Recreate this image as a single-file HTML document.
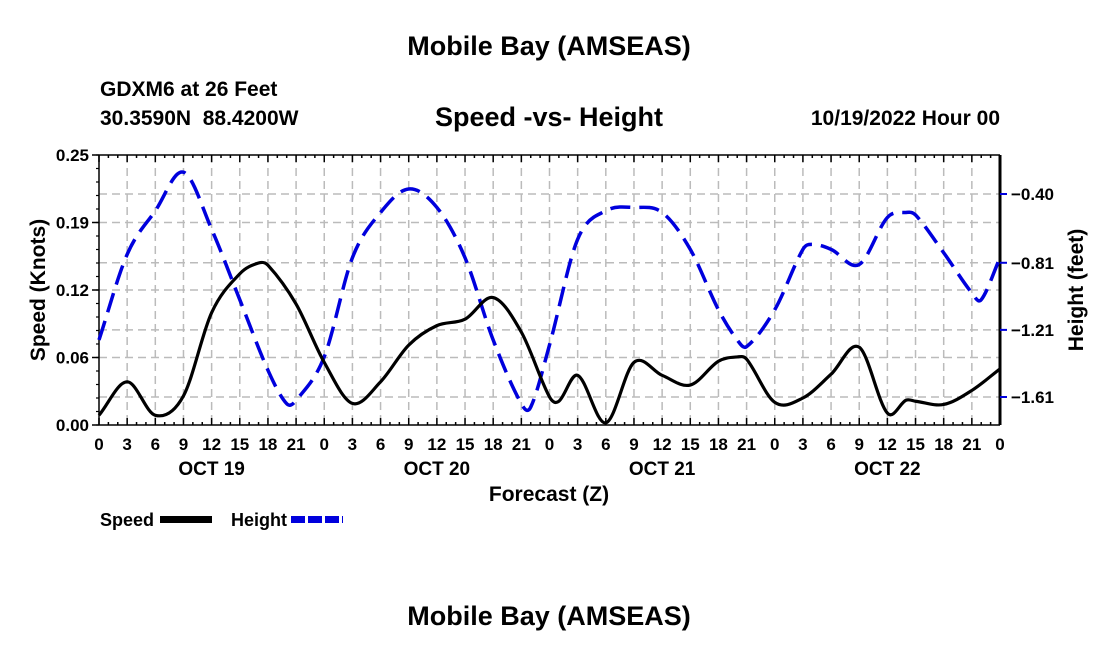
<!DOCTYPE html>
<html><head><meta charset="utf-8"><style>
body{margin:0;background:#fff;}
svg{display:block;font-family:"Liberation Sans",Arial,sans-serif;font-weight:bold;}
</style></head><body>
<svg id="chart" width="1100" height="650" viewBox="0 0 1100 650">
<text x="549" y="55" font-size="27" text-anchor="middle">Mobile Bay (AMSEAS)</text>
<text x="100" y="96" font-size="21">GDXM6 at 26 Feet</text>
<text x="100" y="125" font-size="21" xml:space="preserve">30.3590N  88.4200W</text>
<text x="549" y="126" font-size="27" text-anchor="middle">Speed -vs- Height</text>
<text x="1000" y="125" font-size="21" text-anchor="end">10/19/2022 Hour 00</text>
<g id="grid"></g><g id="axes"></g><g id="series"></g>
<text transform="translate(45,290) rotate(-90)" font-size="21" text-anchor="middle">Speed (Knots)</text>
<text transform="translate(1083,290) rotate(-90)" font-size="21" text-anchor="middle">Height (feet)</text>
<text x="549" y="501" font-size="21" text-anchor="middle">Forecast (Z)</text>
<g>
<text x="100" y="526" font-size="18">Speed</text>
<rect x="160" y="516" width="52" height="7" fill="#000"/>
<text x="231" y="526" font-size="18">Height</text>
<line x1="291" y1="519.5" x2="343" y2="519.5" stroke="#0000dd" stroke-width="7" stroke-dasharray="14,3"/>
</g>
<text x="549" y="625" font-size="27" text-anchor="middle">Mobile Bay (AMSEAS)</text>
</svg>
<script>
const speedHours=[0,3,6,9,12,15,17,18,21,24,27,30,33,36,39,42,45,48,49,51,54,57,60,63,66,68,69,72,75,78,81,84,86,87,90,93,96];
const speedValues=[0.009,0.040,0.009,0.027,0.104,0.140,0.150,0.148,0.112,0.058,0.020,0.040,0.074,0.092,0.098,0.118,0.086,0.026,0.022,0.046,0.002,0.058,0.046,0.037,0.059,0.063,0.061,0.021,0.025,0.047,0.072,0.011,0.023,0.022,0.019,0.032,0.052];
const heightHours=[0,3,6,9,12,15,18,20,21,24,27,30,33,36,39,42,45,46,48,51,54,57,60,63,66,68,69,72,75,76,78,81,84,86,87,90,93,94,96];
const heightValues=[-1.27,-0.76,-0.50,-0.27,-0.61,-1.03,-1.45,-1.65,-1.63,-1.37,-0.78,-0.51,-0.37,-0.48,-0.78,-1.27,-1.65,-1.67,-1.30,-0.67,-0.50,-0.48,-0.51,-0.73,-1.09,-1.27,-1.31,-1.09,-0.73,-0.70,-0.73,-0.82,-0.54,-0.51,-0.525,-0.75,-0.99,-1.03,-0.78];
const speedTicks=[0,0.0625,0.125,0.1875,0.25];
const speedTickLabels=["0.00","0.06","0.12","0.19","0.25"];
const heightTicks=[-1.61,-1.21,-0.81,-0.40];
const heightTickLabels=["\u22121.61","\u22121.21","\u22120.81","\u22120.40"];
const dayLabels=["OCT 19","OCT 20","OCT 21","OCT 22"];
const NS="http://www.w3.org/2000/svg";
const X0=99,X1=1000,Y0=425,Y1=155;
const x=h=>X0+(h/96)*(X1-X0);
const ys=v=>Y0-(v/0.25)*(Y0-Y1);
const yh=v=>194+(-0.40-v)*(203/1.21);
function mk(tag,attrs,parent){const e=document.createElementNS(NS,tag);for(const k in attrs)e.setAttribute(k,attrs[k]);parent.appendChild(e);return e;}
const grid=document.getElementById('grid'),axes=document.getElementById('axes'),ser=document.getElementById('series');
for(let h=3;h<96;h+=3){const l=mk('line',{x1:x(h),x2:x(h),y1:Y1,y2:Y0,stroke:'#bbb','stroke-width':1.5,'stroke-dasharray':'8,5'},grid);

}
speedTicks.slice(1,4).forEach(v=>{const l=mk('line',{x1:X0,x2:X1,y1:ys(v),y2:ys(v),stroke:'#bbb','stroke-width':1.5,'stroke-dasharray':'8,5'},grid);

});
heightTicks.forEach(v=>{const l=mk('line',{x1:X0,x2:X1,y1:yh(v),y2:yh(v),stroke:'#bbb','stroke-width':1.5,'stroke-dasharray':'8,5'},grid);

});
[[X0,Y1,X1,Y1],[X0,Y0,X1,Y0],[X0,Y1,X0,Y0]].forEach(c=>{const l=mk('line',{x1:c[0],y1:c[1],x2:c[2],y2:c[3],stroke:'#000','stroke-width':1.5},axes);

});
const ra=mk('line',{x1:X1,y1:Y1,x2:X1,y2:Y0,stroke:'#000','stroke-width':3},axes);


for(let h=0;h<=96;h++){const len=h%3===0?7:3;
mk('line',{x1:x(h),x2:x(h),y1:Y1,y2:Y1+len,stroke:'#000','stroke-width':1.5},axes);
mk('line',{x1:x(h),x2:x(h),y1:Y0,y2:Y0-len,stroke:'#000','stroke-width':1.5},axes);
if(h%3===0){const t=mk('text',{x:x(h),y:450,'font-size':17,'text-anchor':'middle'},axes);t.textContent=String(h%24);

}}
dayLabels.forEach((d,i)=>{const t=mk('text',{x:x(i*24+12),y:475,'font-size':19,'text-anchor':'middle'},axes);t.textContent=d;

});
for(let v=0;v<=0.25001;v+=0.25/20){mk('line',{x1:X0-3,x2:X0,y1:ys(v),y2:ys(v),stroke:'#000','stroke-width':1.2},axes);}
speedTicks.forEach((v,i)=>{mk('line',{x1:X0-7,x2:X0,y1:ys(v),y2:ys(v),stroke:'#000','stroke-width':1.5},axes);
const t=mk('text',{x:X0-10,y:ys(v)+6,'font-size':17,'text-anchor':'end'},axes);t.textContent=speedTickLabels[i];

});
heightTicks.forEach((v,i)=>{mk('line',{x1:X1,x2:X1+7,y1:yh(v),y2:yh(v),stroke:'#0000dd','stroke-width':2},axes);
const t=mk('text',{x:X1+11,y:yh(v)+6,'font-size':17},axes);t.textContent=heightTickLabels[i];

});
function smooth(xs,vs,fy){const n=xs.length,m=[];
for(let i=0;i<n;i++){const a=Math.max(0,i-1),b=Math.min(n-1,i+1);m.push((vs[b]-vs[a])/(xs[b]-xs[a]));}
let d='M'+x(xs[0])+','+fy(vs[0]);
for(let i=0;i<n-1;i++){const dx=xs[i+1]-xs[i];
d+=' C'+x(xs[i]+dx/3)+','+fy(vs[i]+m[i]*dx/3)+' '+x(xs[i+1]-dx/3)+','+fy(vs[i+1]-m[i+1]*dx/3)+' '+x(xs[i+1])+','+fy(vs[i+1]);}
return d;}
const hp=mk('path',{d:smooth(heightHours,heightValues,yh),fill:'none',stroke:'#0000dd','stroke-width':3.5,'stroke-dasharray':'20,9'},ser);


const sp=mk('path',{d:smooth(speedHours,speedValues,ys),fill:'none',stroke:'#000','stroke-width':3.2},ser);


</script>
</body></html>
